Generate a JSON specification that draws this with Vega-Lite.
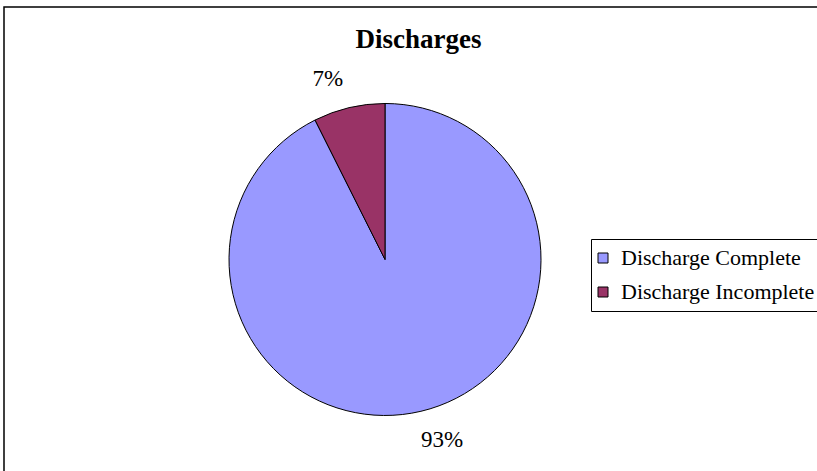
{
  "$schema": "https://vega.github.io/schema/vega-lite/v6.json",
  "width": 829,
  "height": 470,
  "autosize": {"type": "none"},
  "padding": {"left": 4, "top": 7, "right": 0, "bottom": 0},
  "background": "white",
  "title": {
    "text": "Discharges",
    "font": "Liberation Serif",
    "fontSize": 27,
    "fontWeight": "bold",
    "color": "black",
    "anchor": "middle",
    "offset": -48
  },
  "data": {
    "values": [
      {"category": "Discharge Complete", "value": 92.6, "label": "93%"},
      {"category": "Discharge Incomplete", "value": 7.4, "label": "7%"}
    ]
  },
  "layer": [
    {
      "data": {"values": [{"frame": "chart area"}]},
      "mark": {"type": "rect", "fill": null, "stroke": "black", "strokeWidth": 1.5},
      "encoding": {}
    },
    {
      "mark": {
        "type": "arc",
        "outerRadius": 156,
        "stroke": "black",
        "strokeWidth": 1,
        "x": {"expr": "width * 0.4596"},
        "y": {"expr": "height * 0.5372"}
      },
      "encoding": {
        "theta": {"field": "value", "type": "quantitative", "stack": true},
        "order": {"field": "category", "type": "nominal"},
        "color": {
          "field": "category",
          "type": "nominal",
          "scale": {"domain": ["Discharge Complete", "Discharge Incomplete"], "range": ["#9999FF", "#993366"]},
          "legend": {
            "title": null,
            "orient": "none",
            "legendX": 587,
            "legendY": 232,
            "strokeColor": "black",
            "fillColor": "white",
            "padding": 8,
            "labelFont": "Liberation Serif",
            "labelFontSize": 22,
            "labelColor": "black",
            "symbolType": "square",
            "symbolSize": 100,
            "symbolOffset": -7,
            "symbolStrokeColor": "black",
            "symbolStrokeWidth": 1,
            "symbolOpacity": 1,
            "rowPadding": 12,
            "labelOffset": 7,
            "labelLimit": 400
          }
        }
      }
    },
    {
      "mark": {
        "type": "text",
        "radius": 189,
        "thetaOffset": -0.0742,
        "font": "Liberation Serif",
        "fontSize": 23,
        "color": "black",
        "align": "center",
        "baseline": "middle",
        "x": {"expr": "width * 0.4596"},
        "y": {"expr": "height * 0.5372"}
      },
      "encoding": {
        "theta": {"field": "value", "type": "quantitative", "stack": true},
        "order": {"field": "category", "type": "nominal"},
        "detail": {"field": "category", "type": "nominal"},
        "text": {"field": "label", "type": "nominal"}
      }
    }
  ],
  "config": {
    "view": {"stroke": null}
  }
}
